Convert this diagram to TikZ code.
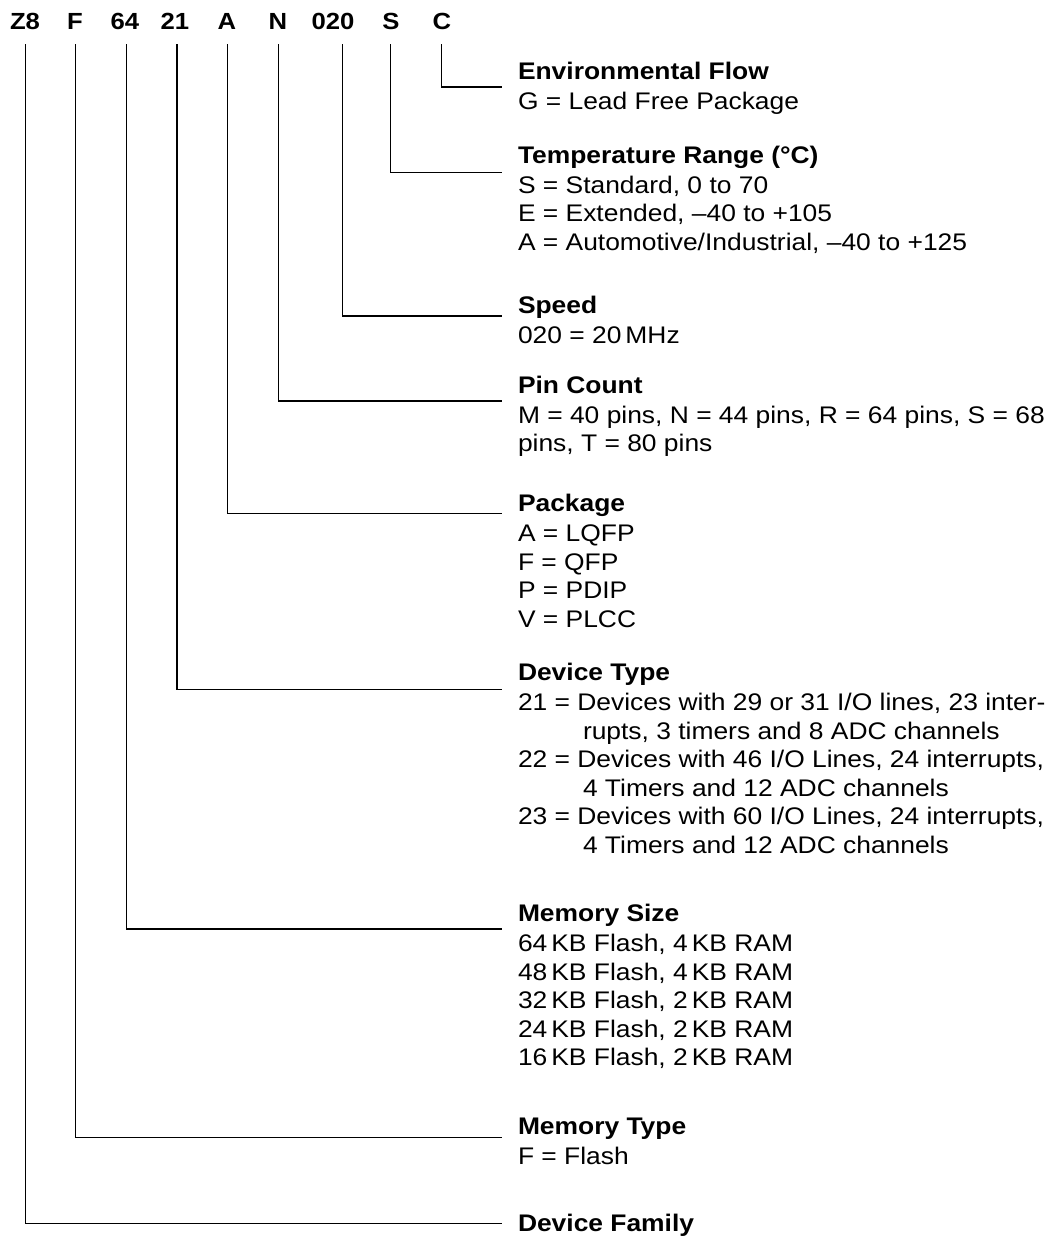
\documentclass[tikz,border=0pt]{standalone}
\usepackage{fontspec}
\setmainfont{Liberation Sans}[FakeStretch=1.1]
\begin{document}
\begin{tikzpicture}[x=0.75pt,y=-0.75pt,
  txt/.style={inner sep=0pt,outer sep=0pt,anchor=base west,font=\fontsize{18pt}{21pt}\selectfont},
  ttl/.style={txt,font=\fontsize{18pt}{21pt}\selectfont\bfseries},
  hdr/.style={inner sep=0pt,outer sep=0pt,anchor=base,font=\fontsize{17.5pt}{21pt}\selectfont\bfseries},
  lead/.style={line width=1pt,black}]
\useasboundingbox (0,0) rectangle (1052,1236);
% header
\node[hdr] (hZ8) at (25,29) {Z8};
\node[hdr] (hF) at (75,29) {F};
\node[hdr] (h64) at (125,29) {64};
\node[hdr] (h21) at (175,29) {21};
\node[hdr] (hA) at (227,29) {A};
\node[hdr] (hN) at (278,29) {N};
\node[hdr] (h020) at (333,29) {020};
\node[hdr] (hS) at (391,29) {S};
\node[hdr] (hC) at (442,29) {C};
% line tops
\coordinate (tZ8) at (25.7,44);
\coordinate (tF) at (75.7,44);
\coordinate (t64) at (126.3,44);
\coordinate (t21) at (177,44);
\coordinate (tA) at (227.3,44);
\coordinate (tN) at (278.3,44);
\coordinate (t020) at (342.3,44);
\coordinate (tS) at (390.3,44);
\coordinate (tC) at (441.7,44);
% line ends
\coordinate (eC) at (501.7,87);
\coordinate (eS) at (501.7,172.3);
\coordinate (e020) at (501.7,316);
\coordinate (eN) at (501.7,401);
\coordinate (eA) at (501.7,513.3);
\coordinate (e21) at (501.7,689.3);
\coordinate (e64) at (501.7,929);
\coordinate (eF) at (501.7,1137.3);
\coordinate (eZ8) at (501.7,1223.3);
\draw[lead] (tC) |- (eC);
\draw[lead] (tS) |- (eS);
\draw[lead] (t020) |- (e020);
\draw[lead] (tN) |- (eN);
\draw[lead] (tA) |- (eA);
\draw[lead] (t21) |- (e21);
\draw[lead] (t64) |- (e64);
\draw[lead] (tF) |- (eF);
\draw[lead] (tZ8) |- (eZ8);
% Environmental Flow
\node[ttl] (envT) at (518,79) {Environmental Flow};
\node[txt] (env1) at (518,109) {G = Lead Free Package};
% Temperature
\node[ttl] (tmpT) at (518,163.3) {Temperature Range (°C)};
\node[txt] (tmp1) at (518,193.3) {S = Standard, 0 to 70};
\node[txt] (tmp2) at (518,221.8) {E = Extended, –40 to +105};
\node[txt] (tmp3) at (518,250.3) {A = Automotive/Industrial, –40 to +125};
% Speed
\node[ttl] (spdT) at (518,313.3) {Speed};
\node[txt] (spd1) at (518,343.3) {020 = 20\,MHz};
% Pin Count
\node[ttl] (pinT) at (518,393.3) {Pin Count};
\node[txt] (pin1) at (518,423.3) {M = 40 pins, N = 44 pins, R = 64 pins, S = 68};
\node[txt] (pin2) at (518,451.8) {pins, T = 80 pins};
% Package
\node[ttl] (pkgT) at (518,511.7) {Package};
\node[txt] (pkg1) at (518,541.7) {A = LQFP};
\node[txt] (pkg2) at (518,570.2) {F = QFP};
\node[txt] (pkg3) at (518,598.7) {P = PDIP};
\node[txt] (pkg4) at (518,627.2) {V = PLCC};
% Device Type
\node[ttl] (devT) at (518,680.7) {Device Type};
\node[txt] (dev1) at (518,710.7) {21 = Devices with 29 or 31 I/O lines, 23 inter-};
\node[txt] (dev2) at (583,739.2) {rupts, 3 timers and 8 ADC channels};
\node[txt] (dev3) at (518,767.7) {22 = Devices with 46 I/O Lines, 24 interrupts,};
\node[txt] (dev4) at (583,796.2) {4 Timers and 12 ADC channels};
\node[txt] (dev5) at (518,824.7) {23 = Devices with 60 I/O Lines, 24 interrupts,};
\node[txt] (dev6) at (583,853.2) {4 Timers and 12 ADC channels};
% Memory Size
\node[ttl] (memT) at (518,921.7) {Memory Size};
\node[txt] (mem1) at (518,951.7) {64\,KB Flash, 4\,KB RAM};
\node[txt] (mem2) at (518,980.2) {48\,KB Flash, 4\,KB RAM};
\node[txt] (mem3) at (518,1008.7) {32\,KB Flash, 2\,KB RAM};
\node[txt] (mem4) at (518,1037.2) {24\,KB Flash, 2\,KB RAM};
\node[txt] (mem5) at (518,1065.7) {16\,KB Flash, 2\,KB RAM};
% Memory Type
\node[ttl] (mtyT) at (518,1134) {Memory Type};
\node[txt] (mty1) at (518,1164) {F = Flash};
% Device Family
\node[ttl] (famT) at (518,1231.6) {Device Family};
\end{tikzpicture}
\end{document}
